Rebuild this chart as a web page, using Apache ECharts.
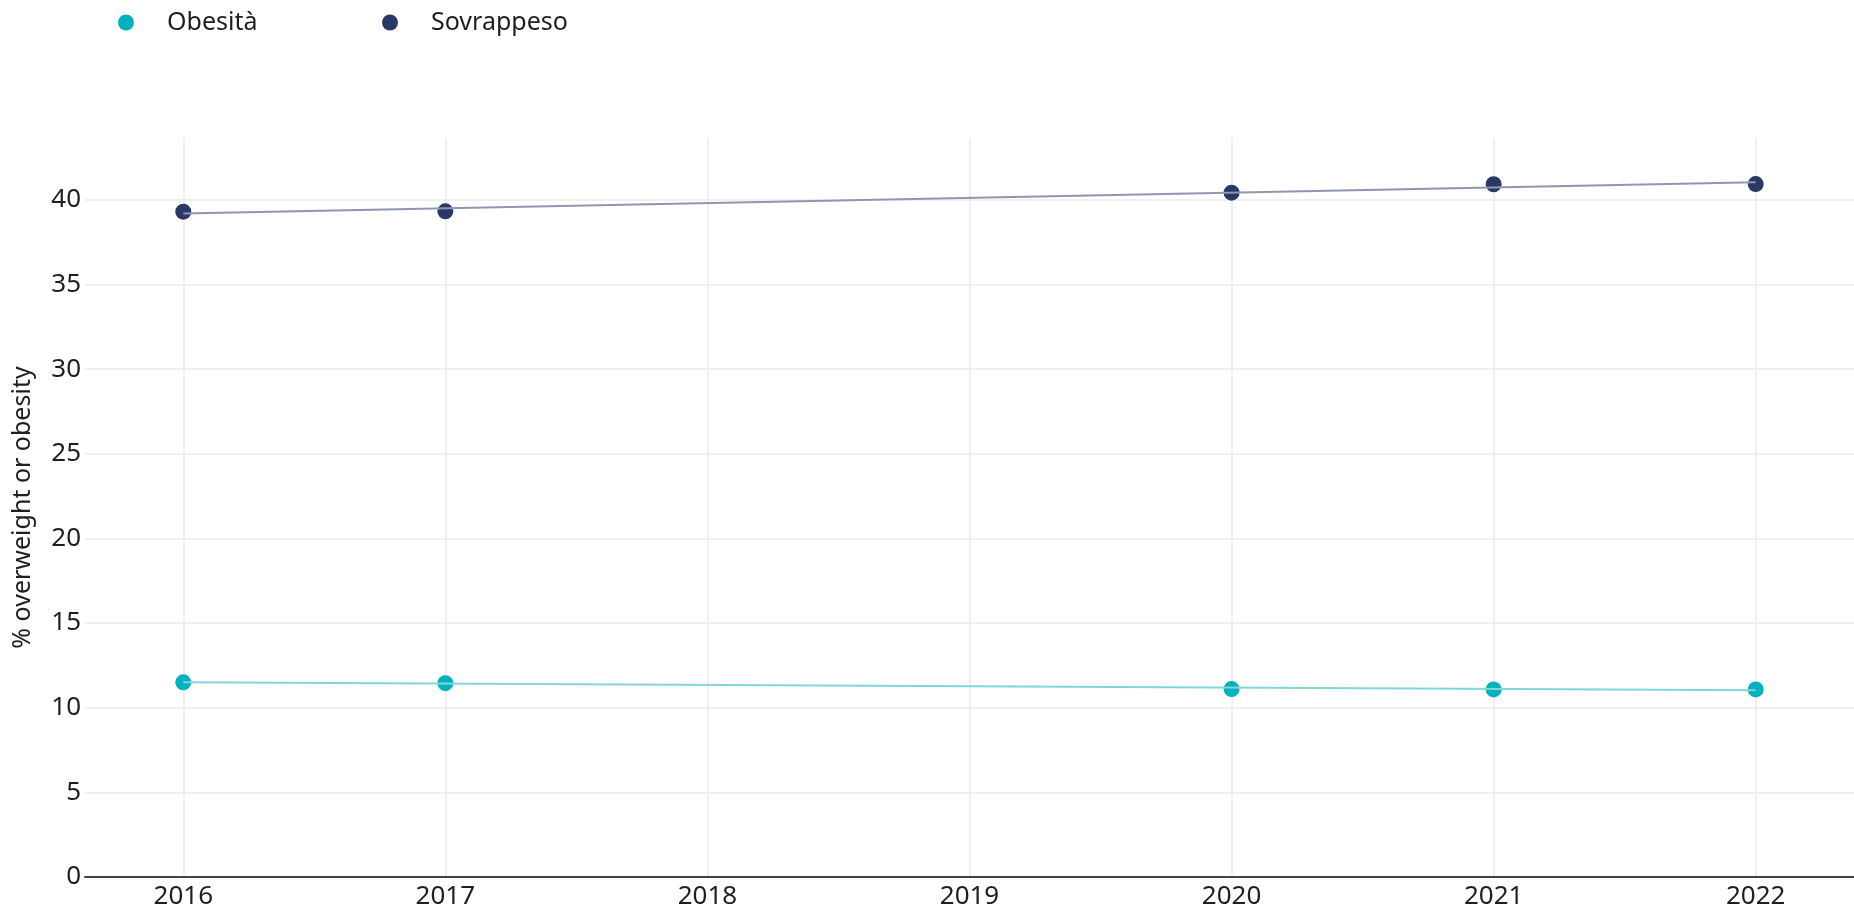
<!DOCTYPE html>
<html>
<head>
<meta charset="utf-8">
<script src="https://cdn.jsdelivr.net/npm/echarts@6/dist/echarts.min.js"></script>
<style>
  html, body { margin: 0; padding: 0; background: #ffffff; }
  #chart { width: 1854px; height: 919px; }
</style>
</head>
<body>
<div id="chart"></div>
<script>
// Data
const years = [2016, 2017, 2020, 2021, 2022];
const obesita = [11.5, 11.45, 11.1, 11.08, 11.08];
const sovrappeso = [39.3, 39.32, 40.42, 40.92, 40.93];
const trendYears = [2016, 2022];
const obesitaTrend = [11.5, 11.03];
const sovrappesoTrend = [39.19, 41.03];
const yTicks = [0, 5, 10, 15, 20, 25, 30, 35, 40];

const FONT = '"Noto Sans", sans-serif';
const TEXT = '#1f1f1f';
const C_OB = '#00b2bd';
const C_OB_LINE = '#7fd6db';
const C_SO = '#2b3866';
const C_SO_LINE = '#8f97b0';

const pairs = (xs, ys) => xs.map((x, i) => [x, ys[i]]);

const chart = echarts.init(document.getElementById('chart'), null, { renderer: 'canvas' });
chart.setOption({
  backgroundColor: '#ffffff',
  animation: false,
  textStyle: { fontFamily: FONT, color: TEXT },
  legend: [
    {
      data: ['Obesità'], left: 118, top: 10, padding: 0,
      icon: 'circle', itemWidth: 16, itemHeight: 16,
      textStyle: { fontSize: 25, color: TEXT, fontFamily: FONT, padding: [0, 0, 0, 28] }
    },
    {
      data: ['Sovrappeso'], left: 382, top: 10, padding: 0,
      icon: 'circle', itemWidth: 16, itemHeight: 16,
      textStyle: { fontSize: 25, color: TEXT, fontFamily: FONT, padding: [0, 0, 0, 28] }
    }
  ],
  grid: { left: 85, right: 0, top: 138, bottom: 42, outerBoundsMode: 'none', containLabel: false },
  xAxis: {
    type: 'value',
    min: 2015.625,
    max: 2022.375,
    minInterval: 1,
    maxInterval: 1,
    axisLine: { show: true, onZero: false, lineStyle: { color: '#444444', width: 2 } },
    axisTick: { show: false },
    axisLabel: {
      fontSize: 26, color: TEXT, fontFamily: FONT, margin: 7,
      showMinLabel: false, showMaxLabel: false,
      formatter: v => (Number.isInteger(v) ? String(v) : '')
    },
    splitLine: { show: true, showMinLine: false, showMaxLine: false, lineStyle: { color: '#ebebeb', width: 1.5 } }
  },
  yAxis: {
    type: 'value',
    min: yTicks[0],
    max: 43.65,
    interval: 5,
    name: '% overweight or obesity',
    nameLocation: 'middle',
    nameGap: 50,
    nameTextStyle: { fontSize: 25, color: TEXT, fontFamily: FONT },
    axisLine: { show: false },
    axisTick: { show: false },
    axisLabel: {
      fontSize: 26, color: TEXT, fontFamily: FONT, margin: 4,
      showMaxLabel: false,
      formatter: v => (yTicks.includes(v) ? String(v) : '')
    },
    splitLine: { show: true, showMaxLine: false, lineStyle: { color: '#ebebeb', width: 1.5 } }
  },
  series: [
    {
      name: 'Obesità trend', type: 'line', data: pairs(trendYears, obesitaTrend),
      symbol: 'none', lineStyle: { color: C_OB_LINE, width: 2 }, silent: true
    },
    {
      name: 'Sovrappeso trend', type: 'line', data: pairs(trendYears, sovrappesoTrend),
      symbol: 'none', lineStyle: { color: C_SO_LINE, width: 2 }, silent: true
    },
    {
      name: 'Obesità', type: 'scatter', data: pairs(years, obesita),
      symbolSize: 16, itemStyle: { color: C_OB, opacity: 1 }
    },
    {
      name: 'Sovrappeso', type: 'scatter', data: pairs(years, sovrappeso),
      symbolSize: 16, itemStyle: { color: C_SO, opacity: 1 }
    }
  ]
});
</script>
</body>
</html>
